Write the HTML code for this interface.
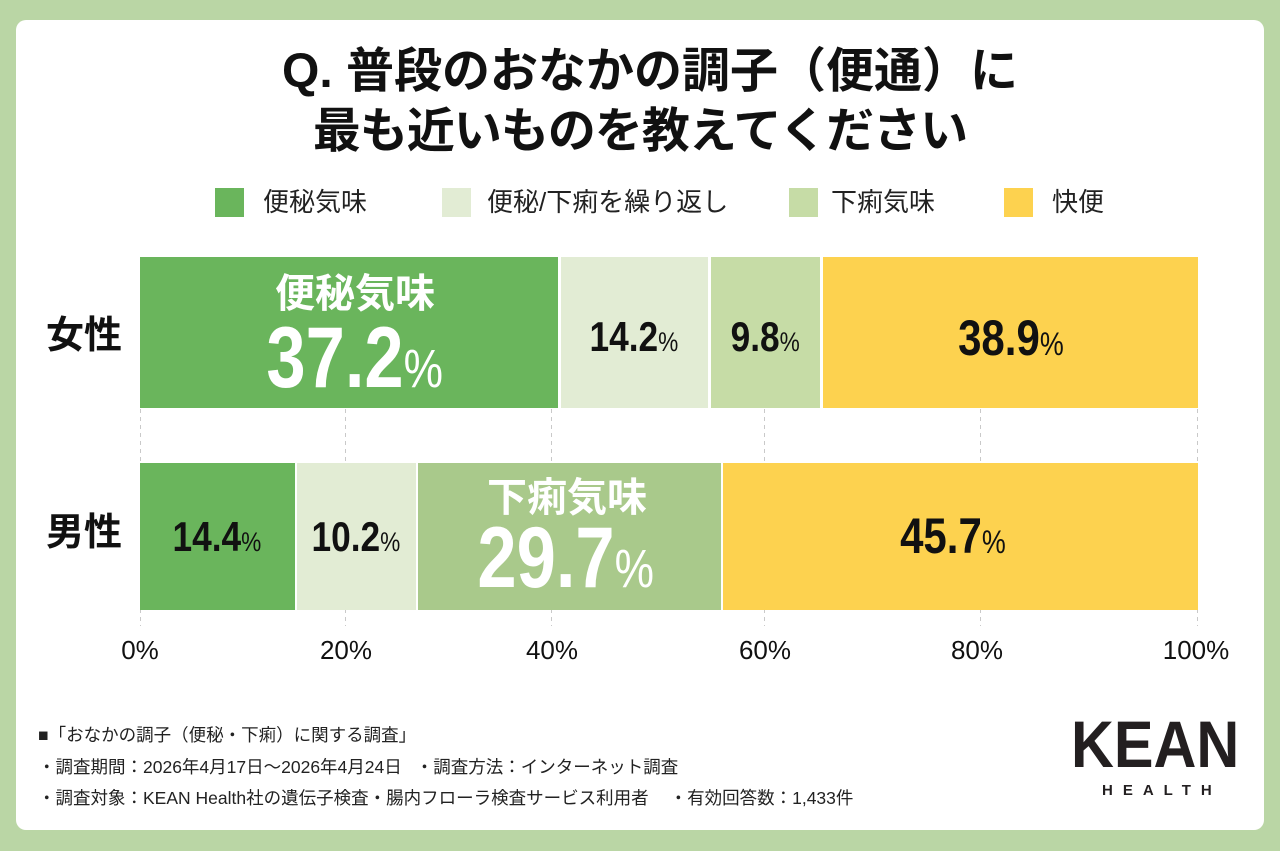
<!DOCTYPE html>
<html>
<head>
<meta charset="utf-8">
<style>
html,body{margin:0;padding:0;}
body{width:1280px;height:851px;background:#bad6a5;position:relative;overflow:hidden;font-family:"Liberation Sans","Noto Sans CJK JP",sans-serif;color:#111;}
.card{position:absolute;left:16px;top:20px;width:1248px;height:810px;background:#fff;border-radius:10px;}
.abs{position:absolute;white-space:nowrap;}
.title{left:0;width:1280px;text-align:center;font-size:48px;line-height:48px;font-weight:700;color:#111;}
.lg{font-size:26px;line-height:26px;color:#222;top:189px;}
.sq{position:absolute;top:188px;width:29px;height:29px;}
.seg{position:absolute;}
.cat{font-size:38px;line-height:38px;font-weight:700;left:46px;color:#111;}
.num{text-align:center;font-weight:700;}
.num .in{display:inline-block;transform:scaleX(0.84);transform-origin:50% 50%;}
.num .p{font-weight:400;}
.ax{font-size:26px;line-height:26px;width:100px;text-align:center;color:#111;top:637px;}
.ft{font-size:17.5px;line-height:18px;left:38px;color:#222;}
</style>
</head>
<body>
<div class="card"></div>

<div class="abs title" style="top:48px;left:10px;">Q. 普段のおなかの調子（便通）に</div>
<div class="abs title" style="top:108px;letter-spacing:-1px;">最も近いものを教えてください</div>

<!-- legend -->
<div class="sq" style="left:215px;background:#6ab55c;"></div>
<div class="abs lg" style="left:263px;">便秘気味</div>
<div class="sq" style="left:442px;background:#e2ecd4;"></div>
<div class="abs lg" style="left:487px;">便秘/下痢を繰り返し</div>
<div class="sq" style="left:789px;background:#c6dca6;"></div>
<div class="abs lg" style="left:831px;">下痢気味</div>
<div class="sq" style="left:1004px;background:#fdd24f;"></div>
<div class="abs lg" style="left:1052px;">快便</div>

<!-- gridlines -->
<svg class="abs" style="left:0;top:0;" width="1280" height="851">
  <g stroke="#c9c9c9" stroke-width="1" stroke-dasharray="4,4">
    <line x1="140.5" y1="257" x2="140.5" y2="626"/>
    <line x1="345.5" y1="257" x2="345.5" y2="626"/>
    <line x1="551.5" y1="257" x2="551.5" y2="626"/>
    <line x1="764.5" y1="257" x2="764.5" y2="626"/>
    <line x1="980.5" y1="257" x2="980.5" y2="626"/>
    <line x1="1197.5" y1="257" x2="1197.5" y2="626"/>
  </g>
</svg>

<!-- female bars -->
<div class="seg" style="left:140px;top:257px;width:418px;height:151px;background:#6ab55c;"></div>
<div class="seg" style="left:561px;top:257px;width:147px;height:151px;background:#e2ecd4;"></div>
<div class="seg" style="left:711px;top:257px;width:109px;height:151px;background:#c6dca6;"></div>
<div class="seg" style="left:823px;top:257px;width:375px;height:151px;background:#fdd24f;"></div>

<!-- male bars -->
<div class="seg" style="left:140px;top:463px;width:155px;height:147px;background:#6ab55c;"></div>
<div class="seg" style="left:297px;top:463px;width:119px;height:147px;background:#e2ecd4;"></div>
<div class="seg" style="left:418px;top:463px;width:303px;height:147px;background:#a9c98b;"></div>
<div class="seg" style="left:723px;top:463px;width:475px;height:147px;background:#fdd24f;"></div>

<!-- category labels -->
<div class="abs cat" style="top:317px;">女性</div>
<div class="abs cat" style="top:514px;">男性</div>

<!-- female labels -->
<div class="abs" style="left:255px;width:200px;text-align:center;top:274px;font-size:40px;line-height:40px;font-weight:700;color:#fff;">便秘気味</div>
<div class="abs num" style="left:205px;width:300px;top:315px;font-size:86px;line-height:86px;color:#fff;"><span class="in" style="transform:scaleX(0.82);">37.2<span class="p" style="font-size:54px;">%</span></span></div>
<div class="abs num" style="left:534px;width:200px;top:316px;font-size:42px;line-height:42px;color:#111;"><span class="in">14.2<span class="p" style="font-size:27px;">%</span></span></div>
<div class="abs num" style="left:665px;width:200px;top:316px;font-size:42px;line-height:42px;color:#111;"><span class="in">9.8<span class="p" style="font-size:27px;">%</span></span></div>
<div class="abs num" style="left:911px;width:200px;top:313px;font-size:50px;line-height:50px;color:#111;"><span class="in">38.9<span class="p" style="font-size:32px;">%</span></span></div>

<!-- male labels -->
<div class="abs num" style="left:117px;width:200px;top:516px;font-size:42px;line-height:42px;color:#111;"><span class="in">14.4<span class="p" style="font-size:27px;">%</span></span></div>
<div class="abs num" style="left:256px;width:200px;top:516px;font-size:42px;line-height:42px;color:#111;"><span class="in">10.2<span class="p" style="font-size:27px;">%</span></span></div>
<div class="abs" style="left:467px;width:200px;text-align:center;top:478px;font-size:40px;line-height:40px;font-weight:700;color:#fff;">下痢気味</div>
<div class="abs num" style="left:416px;width:300px;top:515px;font-size:86px;line-height:86px;color:#fff;"><span class="in" style="transform:scaleX(0.82);">29.7<span class="p" style="font-size:54px;">%</span></span></div>
<div class="abs num" style="left:853px;width:200px;top:511px;font-size:50px;line-height:50px;color:#111;"><span class="in">45.7<span class="p" style="font-size:32px;">%</span></span></div>

<!-- axis labels -->
<div class="abs ax" style="left:90px;">0%</div>
<div class="abs ax" style="left:296px;">20%</div>
<div class="abs ax" style="left:502px;">40%</div>
<div class="abs ax" style="left:715px;">60%</div>
<div class="abs ax" style="left:927px;">80%</div>
<div class="abs ax" style="left:1146px;">100%</div>

<!-- footer -->
<div class="abs ft" style="top:726px;">■「おなかの調子（便秘・下痢）に関する調査」</div>
<div class="abs ft" style="top:758px;">・調査期間：2026年4月17日～2026年4月24日<span style="display:inline-block;width:14px;"></span>・調査方法：インターネット調査</div>
<div class="abs ft" style="top:789px;">・調査対象：KEAN Health社の遺伝子検査・腸内フローラ検査サービス利用者<span style="display:inline-block;width:21px;"></span>・有効回答数：1,433件</div>

<!-- logo -->
<div class="abs" style="left:1071px;top:711px;font-size:66px;line-height:66px;font-weight:700;color:#231f20;transform:scaleX(0.9);transform-origin:0 0;">KEAN</div>
<div class="abs" style="left:1102px;top:783px;font-size:15px;line-height:15px;font-weight:700;color:#231f20;letter-spacing:10px;">HEALTH</div>

</body>
</html>
